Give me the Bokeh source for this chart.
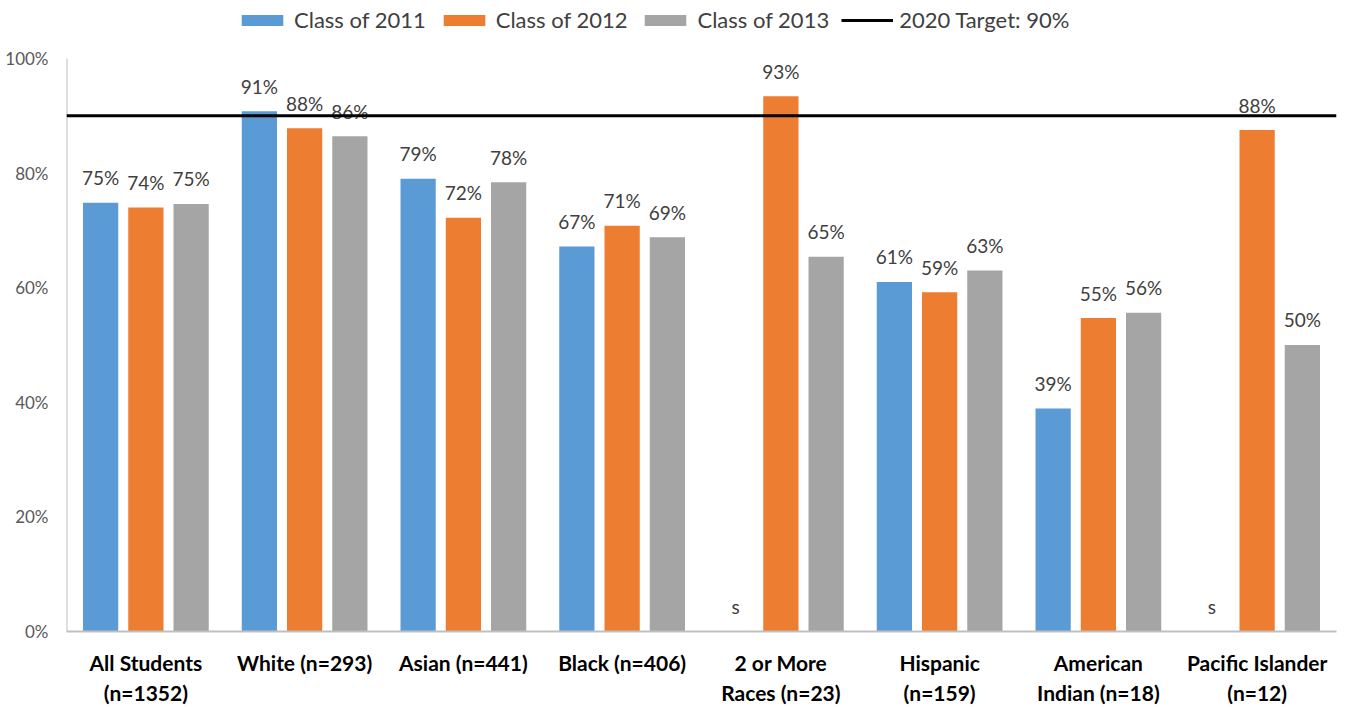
from bokeh.plotting import figure
from bokeh.models import ColumnDataSource, FixedTicker, Legend, LegendItem, Span, Range1d
from bokeh.core.properties import value
from bokeh.embed import file_html
from bokeh.resources import INLINE

categories = ["All Students\n(n=1352)", "White (n=293)", "Asian (n=441)", "Black (n=406)",
              "2 or More\nRaces (n=23)", "Hispanic\n(n=159)", "American\nIndian (n=18)", "Pacific Islander\n(n=12)"]
series_names = ["Class of 2011", "Class of 2012", "Class of 2013"]
class_2011 = [74.8, 90.8, 79.0, 67.2, None, 61.0, 38.9, None]
class_2012 = [74.0, 87.8, 72.2, 70.8, 93.4, 59.2, 54.7, 87.5]
class_2013 = [74.6, 86.4, 78.4, 68.8, 65.4, 63.0, 55.6, 50.0]
target = 90
target_label = "2020 Target: 90%"
y_ticks = [0, 20, 40, 60, 80, 100]

colors = ["#5B9BD5", "#ED7D31", "#A5A5A5"]
offsets = [-0.285, 0.0, 0.285]
FONT = "Lato"

p = figure(width=1341, height=707, output_backend="svg", toolbar_location=None,
           x_range=Range1d(0, len(categories)), y_range=Range1d(0, 109.41),
           min_border_left=66, min_border_top=4, min_border_bottom=75, min_border_right=5)
p.outline_line_color = None
p.xgrid.visible = False
p.ygrid.visible = False

renderers = []
for vals, col, off in zip([class_2011, class_2012, class_2013], colors, offsets):
    xs = [i + 0.5 + off for i in range(len(categories))]
    tops = [v if v is not None else 0 for v in vals]
    labels = [f"{round(v):d}%" if v is not None else "s" for v in vals]
    src = ColumnDataSource(dict(x=xs, top=tops, label=labels))
    r = p.vbar(x="x", top="top", width=0.222, source=src, fill_color=col, line_color=None)
    renderers.append(r)
    p.text(x="x", y="top", text="label", source=src, text_align="center", text_baseline="middle",
           y_offset=-25, text_font=value(FONT), text_font_size="19px", text_color="#404040")

# left axis line from 0% to 100%
p.segment(x0=[0], y0=[0], x1=[0], y1=[100], line_color="#BFBFBF", line_width=2)

span = Span(location=target, dimension="width", line_color="black", line_width=3)
p.add_layout(span)
line_r = p.line(x=[0, 0], y=[-10, -10], line_color="black", line_width=3)

p.yaxis.ticker = FixedTicker(ticks=y_ticks)
p.yaxis.major_label_overrides = {t: f"{t}%" for t in y_ticks}
p.yaxis.major_tick_line_color = None
p.yaxis.minor_tick_line_color = None
p.yaxis.axis_line_color = None
p.yaxis.major_label_text_font = FONT
p.yaxis.major_label_text_font_size = "17px"
p.yaxis.major_label_text_color = "#595959"
p.yaxis.major_label_standoff = 12

xt = [i + 0.5 for i in range(len(categories))]
p.xaxis.ticker = FixedTicker(ticks=xt)
p.xaxis.major_label_overrides = {x: c for x, c in zip(xt, categories)}
p.xaxis.major_tick_line_color = None
p.xaxis.minor_tick_line_color = None
p.xaxis.axis_line_color = "#BFBFBF"
p.xaxis.axis_line_width = 2
p.xaxis.major_label_text_font = FONT
p.xaxis.major_label_text_font_size = "21px"
p.xaxis.major_label_text_font_style = "bold"
p.xaxis.major_label_text_color = "#000000"
p.xaxis.major_label_standoff = 12

items = [LegendItem(label=n, renderers=[r]) for n, r in zip(series_names, renderers)]
items.append(LegendItem(label=target_label, renderers=[line_r]))
legend = Legend(items=items, orientation="horizontal", location=(170, 598),
                label_text_font=FONT, label_text_font_size="22px", label_text_color="#404040",
                glyph_width=52, glyph_height=14, spacing=12, label_standoff=6,
                border_line_color=None, background_fill_alpha=0, padding=0, margin=0)
p.add_layout(legend, "center")

open("out.html", "w").write(file_html(p, INLINE))
